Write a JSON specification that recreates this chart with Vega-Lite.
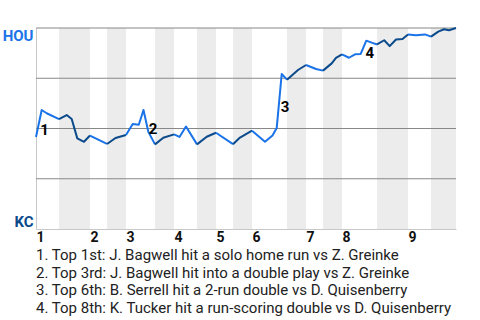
{
  "$schema": "https://vega.github.io/schema/vega-lite/v6.json",
  "width": 420,
  "height": 201,
  "autosize": {"type": "none"},
  "padding": {"left": 36, "top": 28, "right": 24, "bottom": 91},
  "background": "white",
  "title": {
    "text": [
      "1. Top 1st: J. Bagwell hit a solo home run vs Z. Greinke",
      "2. Top 3rd: J. Bagwell hit into a double play vs Z. Greinke",
      "3. Top 6th: B. Serrell hit a 2-run double vs D. Quisenberry",
      "4. Top 8th: K. Tucker hit a run-scoring double vs D. Quisenberry"
    ],
    "orient": "bottom",
    "anchor": "start",
    "frame": "group",
    "font": "Roboto",
    "fontSize": 15,
    "fontWeight": "normal",
    "color": "#222222",
    "lineHeight": 17.6,
    "offset": 4,
    "baseline": "top"
  },
  "datasets": {
    "bands": [
      {"start": 23, "end": 54},
      {"start": 71, "end": 90},
      {"start": 119, "end": 138},
      {"start": 161, "end": 180},
      {"start": 197, "end": 216},
      {"start": 251, "end": 270},
      {"start": 287, "end": 306},
      {"start": 341, "end": 372},
      {"start": 395, "end": 420}
    ],
    "grid": [{"wp": 0.25}, {"wp": 0.5}, {"wp": 0.75}, {"wp": 1}],
    "wp": [
      {"seg": 1, "half": "top", "pos": 0, "wp": 0.458},
      {"seg": 1, "half": "top", "pos": 5.7, "wp": 0.592},
      {"seg": 1, "half": "top", "pos": 10.7, "wp": 0.576},
      {"seg": 1, "half": "top", "pos": 23, "wp": 0.547},
      {"seg": 2, "half": "bottom", "pos": 23, "wp": 0.547},
      {"seg": 2, "half": "bottom", "pos": 30.7, "wp": 0.567},
      {"seg": 2, "half": "bottom", "pos": 35.7, "wp": 0.547},
      {"seg": 2, "half": "bottom", "pos": 41.3, "wp": 0.451},
      {"seg": 2, "half": "bottom", "pos": 48, "wp": 0.434},
      {"seg": 2, "half": "bottom", "pos": 54, "wp": 0.465},
      {"seg": 3, "half": "top", "pos": 54, "wp": 0.465},
      {"seg": 3, "half": "top", "pos": 71, "wp": 0.423},
      {"seg": 4, "half": "bottom", "pos": 71, "wp": 0.423},
      {"seg": 4, "half": "bottom", "pos": 79.5, "wp": 0.453},
      {"seg": 4, "half": "bottom", "pos": 90, "wp": 0.468},
      {"seg": 5, "half": "top", "pos": 90, "wp": 0.468},
      {"seg": 5, "half": "top", "pos": 96.7, "wp": 0.522},
      {"seg": 5, "half": "top", "pos": 102.8, "wp": 0.519},
      {"seg": 5, "half": "top", "pos": 107.5, "wp": 0.592},
      {"seg": 5, "half": "top", "pos": 112.3, "wp": 0.484},
      {"seg": 5, "half": "top", "pos": 119, "wp": 0.421},
      {"seg": 6, "half": "bottom", "pos": 119, "wp": 0.421},
      {"seg": 6, "half": "bottom", "pos": 127.3, "wp": 0.454},
      {"seg": 6, "half": "bottom", "pos": 138, "wp": 0.471},
      {"seg": 7, "half": "top", "pos": 138, "wp": 0.471},
      {"seg": 7, "half": "top", "pos": 143.5, "wp": 0.458},
      {"seg": 7, "half": "top", "pos": 150, "wp": 0.51},
      {"seg": 7, "half": "top", "pos": 161, "wp": 0.421},
      {"seg": 8, "half": "bottom", "pos": 161, "wp": 0.421},
      {"seg": 8, "half": "bottom", "pos": 170.7, "wp": 0.459},
      {"seg": 8, "half": "bottom", "pos": 180, "wp": 0.479},
      {"seg": 9, "half": "top", "pos": 180, "wp": 0.479},
      {"seg": 9, "half": "top", "pos": 197, "wp": 0.422},
      {"seg": 10, "half": "bottom", "pos": 197, "wp": 0.422},
      {"seg": 10, "half": "bottom", "pos": 204, "wp": 0.455},
      {"seg": 10, "half": "bottom", "pos": 216, "wp": 0.489},
      {"seg": 11, "half": "top", "pos": 216, "wp": 0.489},
      {"seg": 11, "half": "top", "pos": 229, "wp": 0.434},
      {"seg": 11, "half": "top", "pos": 236.5, "wp": 0.465},
      {"seg": 11, "half": "top", "pos": 240.7, "wp": 0.502},
      {"seg": 11, "half": "top", "pos": 245.7, "wp": 0.771},
      {"seg": 11, "half": "top", "pos": 251, "wp": 0.743},
      {"seg": 12, "half": "bottom", "pos": 251, "wp": 0.743},
      {"seg": 12, "half": "bottom", "pos": 262, "wp": 0.791},
      {"seg": 12, "half": "bottom", "pos": 270, "wp": 0.816},
      {"seg": 13, "half": "top", "pos": 270, "wp": 0.816},
      {"seg": 13, "half": "top", "pos": 280, "wp": 0.796},
      {"seg": 13, "half": "top", "pos": 287, "wp": 0.788},
      {"seg": 14, "half": "bottom", "pos": 287, "wp": 0.788},
      {"seg": 14, "half": "bottom", "pos": 295.7, "wp": 0.824},
      {"seg": 14, "half": "bottom", "pos": 300, "wp": 0.851},
      {"seg": 14, "half": "bottom", "pos": 306, "wp": 0.869},
      {"seg": 15, "half": "top", "pos": 306, "wp": 0.869},
      {"seg": 15, "half": "top", "pos": 313, "wp": 0.852},
      {"seg": 15, "half": "top", "pos": 319, "wp": 0.869},
      {"seg": 15, "half": "top", "pos": 324.7, "wp": 0.871},
      {"seg": 15, "half": "top", "pos": 330.3, "wp": 0.937},
      {"seg": 15, "half": "top", "pos": 335.7, "wp": 0.927},
      {"seg": 15, "half": "top", "pos": 341, "wp": 0.918},
      {"seg": 16, "half": "bottom", "pos": 341, "wp": 0.918},
      {"seg": 16, "half": "bottom", "pos": 348.2, "wp": 0.939},
      {"seg": 16, "half": "bottom", "pos": 353.7, "wp": 0.91},
      {"seg": 16, "half": "bottom", "pos": 360, "wp": 0.943},
      {"seg": 16, "half": "bottom", "pos": 366.5, "wp": 0.945},
      {"seg": 16, "half": "bottom", "pos": 372, "wp": 0.968},
      {"seg": 17, "half": "top", "pos": 372, "wp": 0.968},
      {"seg": 17, "half": "top", "pos": 380, "wp": 0.964},
      {"seg": 17, "half": "top", "pos": 389, "wp": 0.968},
      {"seg": 17, "half": "top", "pos": 395, "wp": 0.957},
      {"seg": 18, "half": "bottom", "pos": 395, "wp": 0.957},
      {"seg": 18, "half": "bottom", "pos": 402.3, "wp": 0.982},
      {"seg": 18, "half": "bottom", "pos": 408, "wp": 0.994},
      {"seg": 18, "half": "bottom", "pos": 413, "wp": 0.989},
      {"seg": 18, "half": "bottom", "pos": 420, "wp": 1.0}
    ],
    "notes": [
      {"label": "1", "pos": 8.5, "wp": 0.493},
      {"label": "2", "pos": 117, "wp": 0.5},
      {"label": "3", "pos": 249, "wp": 0.608},
      {"label": "4", "pos": 333.7, "wp": 0.874}
    ]
  },
  "layer": [
    {
      "data": {"name": "bands"},
      "mark": {"type": "rect", "color": "#ececec"},
      "encoding": {
        "x": {"field": "start", "type": "quantitative", "title": null, "scale": {"domain": [0, 420], "nice": false, "zero": false}},
        "x2": {"field": "end"}
      }
    },
    {
      "data": {"name": "grid"},
      "mark": {"type": "rule", "color": "#888888", "strokeWidth": 1},
      "encoding": {
        "y": {"field": "wp", "type": "quantitative", "title": null, "scale": {"domain": [0, 1], "nice": false}}
      }
    },
    {
      "data": {"name": "wp"},
      "mark": {"type": "line", "strokeWidth": 2, "strokeJoin": "round"},
      "encoding": {
        "x": {
          "field": "pos", "type": "quantitative", "title": null,
          "scale": {"domain": [0, 420], "nice": false, "zero": false},
          "axis": {
            "values": [0, 54, 90, 138, 180, 216, 270, 306, 372],
            "labelExpr": "indexof([0, 54, 90, 138, 180, 216, 270, 306, 372], datum.value) + 1",
            "labelAlign": "left",
            "labelBaseline": "top",
            "labelPadding": 1,
            "labelOverlap": false,
            "labelFlush": false,
            "labelColor": "#111111"
          }
        },
        "y": {
          "field": "wp", "type": "quantitative", "title": null,
          "scale": {"domain": [0, 1], "nice": false},
          "axis": {
            "values": [0, 1],
            "labelExpr": "datum.value == 1 ? 'HOU' : 'KC'",
            "labelColor": {"expr": "datum.value == 1 ? '#1a73e8' : '#0b4a8b'"},
            "labelFlush": true,
            "labelPadding": 3,
            "labelOverlap": false,
            "labelFontSize": 15
          }
        },
        "color": {
          "field": "half", "type": "nominal", "legend": null,
          "scale": {"domain": ["top", "bottom"], "range": ["#1a73e8", "#0b4a8b"]}
        },
        "detail": {"field": "seg", "type": "nominal"}
      }
    },
    {
      "data": {"name": "notes"},
      "mark": {"type": "text", "font": "Roboto", "fontSize": 15, "fontWeight": "bold", "color": "#000000", "align": "center", "baseline": "middle"},
      "encoding": {
        "x": {"field": "pos", "type": "quantitative", "title": null},
        "y": {"field": "wp", "type": "quantitative", "title": null},
        "text": {"field": "label"}
      }
    }
  ],
  "config": {
    "view": {"stroke": null},
    "axis": {
      "domainColor": "#c8c8c8",
      "ticks": false,
      "grid": false,
      "labelFont": "Roboto",
      "labelFontSize": 14,
      "labelFontWeight": "bold"
    }
  }
}
